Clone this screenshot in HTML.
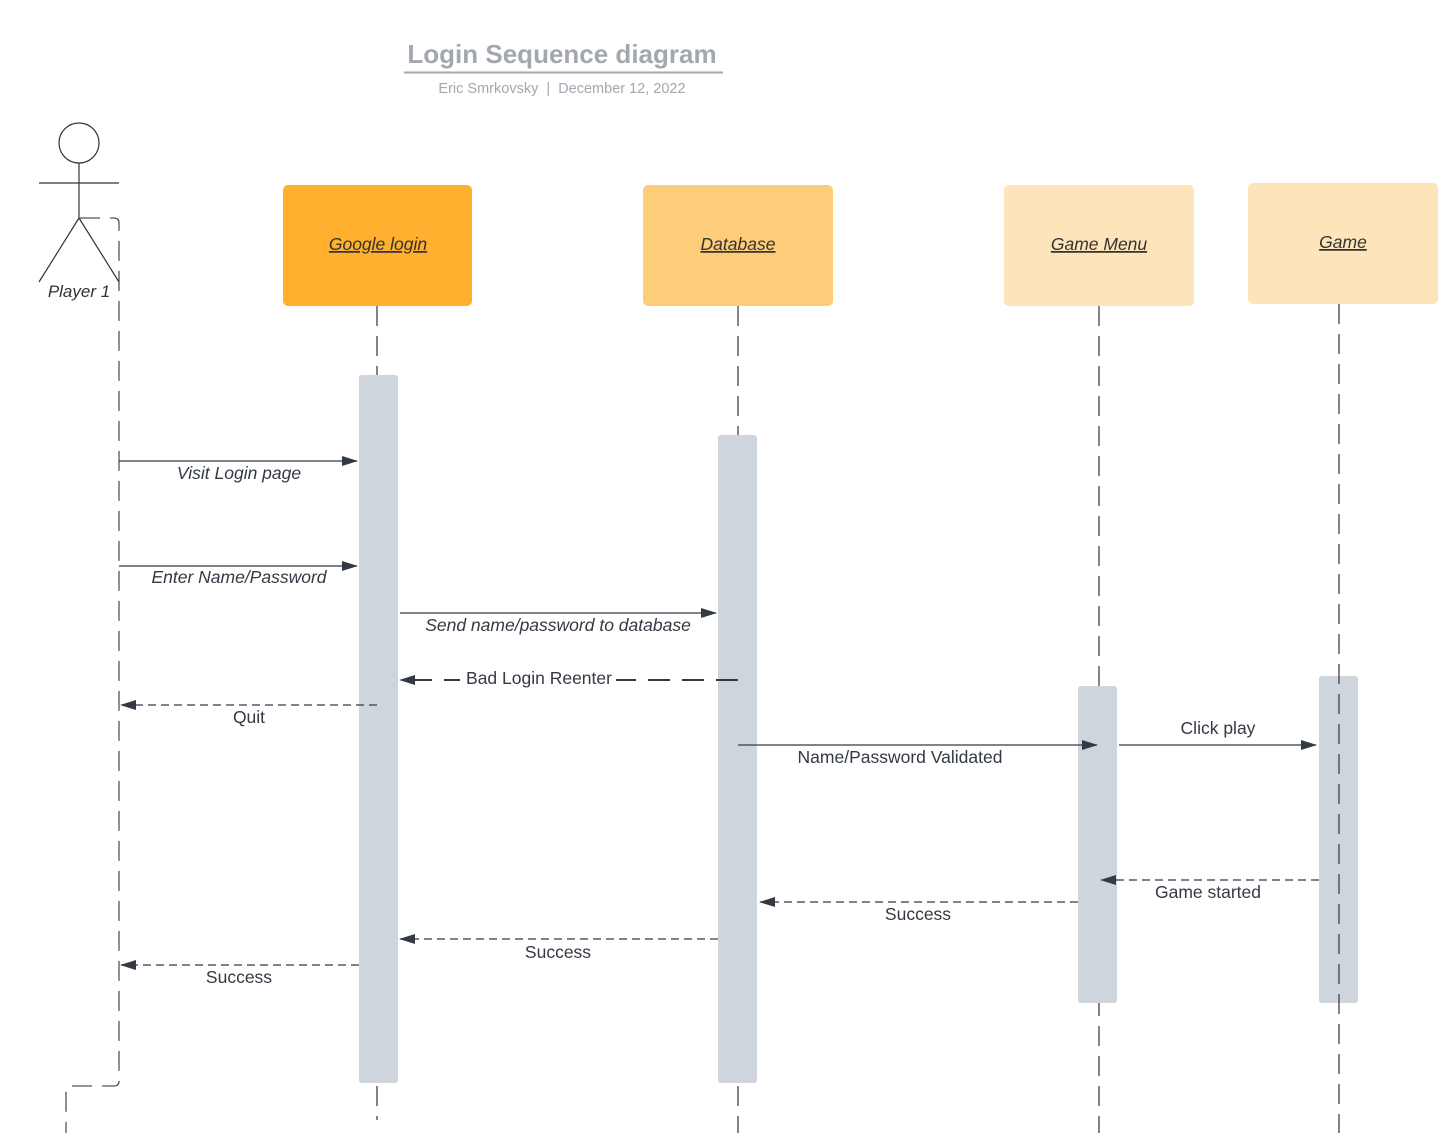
<!DOCTYPE html>
<html><head><meta charset="utf-8"><style>
html,body{margin:0;padding:0;background:#fff;}
svg{display:block;}
text{font-family:"Liberation Sans",sans-serif;}
</style></head><body>
<svg width="1439" height="1133" viewBox="0 0 1439 1133" xmlns="http://www.w3.org/2000/svg">
<defs>
<marker id="a" markerWidth="16" markerHeight="10" refX="15" refY="5" orient="auto" markerUnits="userSpaceOnUse">
<path d="M0,0 L16,5 L0,10 Z" fill="#333a44"/></marker>
</defs>
<!-- title -->
<text x="562" y="63" font-size="26" font-weight="bold" fill="#a3a7ae" text-anchor="middle">Login Sequence diagram</text>
<line x1="404" y1="72.5" x2="723" y2="72.5" stroke="#a3a7ae" stroke-width="2"/>
<text x="562" y="93" font-size="14.5" fill="#a3a7ae" text-anchor="middle">Eric Smrkovsky&#160;&#160;|&#160;&#160;December 12, 2022</text>

<!-- actor -->
<g stroke="#333" stroke-width="1.2" fill="none">
<circle cx="79" cy="143" r="20"/>
<line x1="79" y1="163" x2="79" y2="218"/>
<line x1="39" y1="183" x2="119" y2="183"/>
<line x1="79" y1="218" x2="39" y2="282"/>
<line x1="79" y1="218" x2="119" y2="282"/>
</g>
<text x="79" y="297" font-size="17" font-style="italic" fill="#333" text-anchor="middle">Player 1</text>
<path d="M80,218 H114 Q119,218 119,223 V1081 Q119,1086 114,1086 H71 Q66,1086 66,1091 V1133" fill="none" stroke="#555" stroke-width="1.3" stroke-dasharray="20,10"/>

<!-- boxes -->
<rect x="283" y="185" width="189" height="121" rx="5" fill="#ffb02e"/>
<rect x="643" y="185" width="190" height="121" rx="5" fill="#fecd7a"/>
<rect x="1004" y="185" width="190" height="121" rx="5" fill="#fee4bb"/>
<rect x="1248" y="183" width="190" height="121" rx="5" fill="#fee4bb"/>
<g font-size="17.5" font-style="italic" fill="#333" text-anchor="middle">
<text x="378" y="250" text-decoration="underline">Google login</text>
<text x="738" y="250" text-decoration="underline">Database</text>
<text x="1099" y="250" text-decoration="underline">Game Menu</text>
<text x="1343" y="248" text-decoration="underline">Game</text>
</g>

<!-- lifelines -->
<g stroke="#333" stroke-width="1.2" stroke-dasharray="20,10" fill="none">
<line x1="377" y1="306" x2="377" y2="1120"/>
<line x1="738" y1="306" x2="738" y2="1133"/>
<line x1="1099" y1="306" x2="1099" y2="1133"/>
</g>

<!-- activation bars -->
<g fill="#cfd5dc">
<rect x="359" y="375" width="39" height="708" rx="3"/>
<rect x="718" y="435" width="39" height="648" rx="3"/>
<rect x="1078" y="686" width="39" height="317" rx="3"/>
<rect x="1319" y="676" width="39" height="327" rx="3"/>
</g>
<line x1="1339" y1="304" x2="1339" y2="1133" stroke="#333" stroke-width="1.2" stroke-dasharray="20,10"/>

<!-- messages -->
<g stroke="#333a44" stroke-width="1.2" fill="none">
<line x1="119" y1="461" x2="357" y2="461" marker-end="url(#a)"/>
<line x1="119" y1="566" x2="357" y2="566" marker-end="url(#a)"/>
<line x1="400" y1="613" x2="716" y2="613" marker-end="url(#a)"/>
<line x1="738" y1="680" x2="400" y2="680" stroke-dasharray="22,12" stroke-width="2" marker-end="url(#a)"/>
<line x1="377" y1="705" x2="121" y2="705" stroke-dasharray="8,5" marker-end="url(#a)"/>
<line x1="738" y1="745" x2="1097" y2="745" marker-end="url(#a)"/>
<line x1="1119" y1="745" x2="1316" y2="745" marker-end="url(#a)"/>
<line x1="1319" y1="880" x2="1101" y2="880" stroke-dasharray="8,5" marker-end="url(#a)"/>
<line x1="1078" y1="902" x2="760" y2="902" stroke-dasharray="8,5" marker-end="url(#a)"/>
<line x1="718" y1="939" x2="400" y2="939" stroke-dasharray="8,5" marker-end="url(#a)"/>
<line x1="359" y1="965" x2="121" y2="965" stroke-dasharray="8,5" marker-end="url(#a)"/>
</g>
<rect x="460" y="668" width="156" height="22" fill="#fff"/>
<g font-size="17.5" fill="#333a44" text-anchor="middle">
<text x="239" y="479" font-style="italic">Visit Login page</text>
<text x="239" y="583" font-style="italic">Enter Name/Password</text>
<text x="558" y="631" font-style="italic">Send name/password to database</text>
<text x="539" y="684">Bad Login Reenter</text>
<text x="249" y="723">Quit</text>
<text x="900" y="763">Name/Password Validated</text>
<text x="1218" y="734">Click play</text>
<text x="1208" y="898">Game started</text>
<text x="918" y="920">Success</text>
<text x="558" y="958">Success</text>
<text x="239" y="983">Success</text>
</g>
</svg>
</body></html>
